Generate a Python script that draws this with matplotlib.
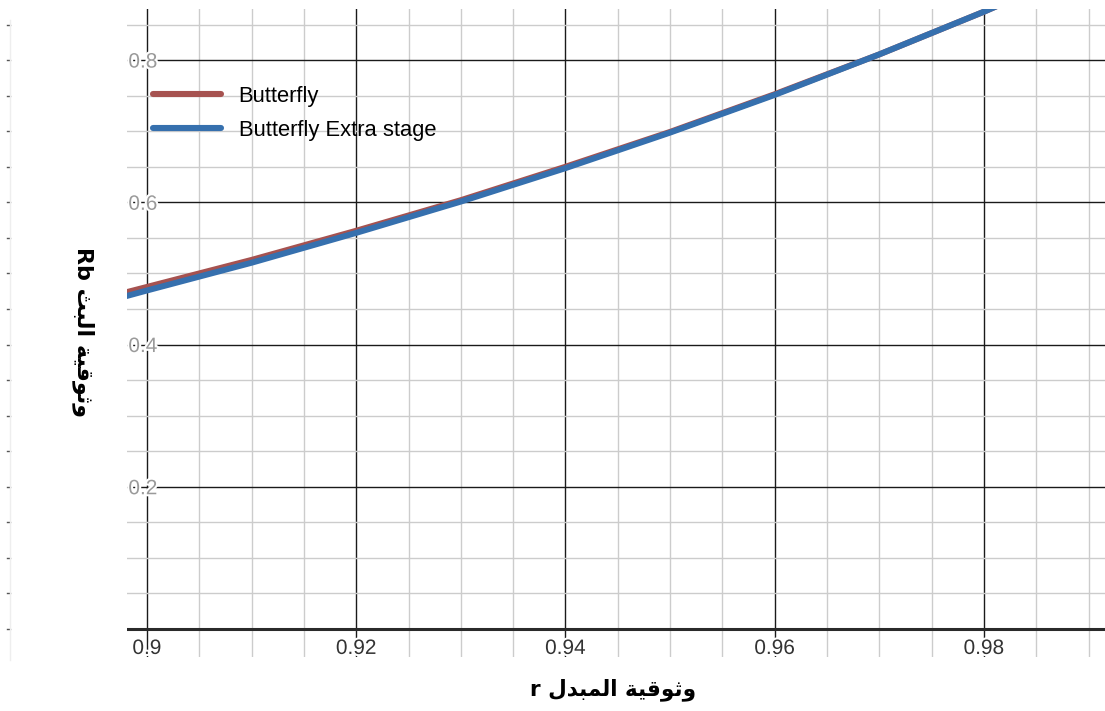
import matplotlib
matplotlib.use("Agg")
import matplotlib.pyplot as plt
import matplotlib.patheffects as pe
from matplotlib import transforms
from matplotlib.lines import Line2D
import numpy as np

# %% Data
r = [0.895, 0.90, 0.91, 0.92, 0.93, 0.94, 0.95, 0.96, 0.97, 0.98, 0.99]
butterfly = [0.462, 0.481, 0.519, 0.560, 0.603, 0.650, 0.699, 0.752, 0.808, 0.868, 0.932]
butterfly_extra = [0.456, 0.476, 0.515, 0.557, 0.601, 0.648, 0.698, 0.751, 0.808, 0.868, 0.932]

x_major = [0.90, 0.92, 0.94, 0.96, 0.98]
x_labels = ["0.9", "0.92", "0.94", "0.96", "0.98"]
y_major = [0.2, 0.4, 0.6, 0.8]
y_labels = ["0.2", "0.4", "0.6", "0.8"]

# Arabic text written in visual order with presentation forms
xlabel = "r " + "\uFEDD\uFEAA\uFE92\uFEE4\uFEDF\uFE8D" + " " + "\uFE94\uFEF4\uFED7\uFEEE\uFE9B\uFEED"
ylabel = "Rb " + "\uFE9A\uFE92\uFEDF\uFE8D" + " " + "\uFE94\uFEF4\uFED7\uFEEE\uFE9B\uFEED"

red = "#a65250"
blue = "#3670ae"

# %% Figure
W, H = 1105, 711
fig = plt.figure(figsize=(W / 100, H / 100), dpi=100)
ax = fig.add_axes([127 / W, 1 - 657 / H, 1 - 127 / W, (657 - 9) / H])

for s in ax.spines.values():
    s.set_visible(False)

# grid
ax.set_xticks(np.arange(0.895, 0.995, 0.005), minor=True)
ax.set_yticks(np.arange(0.0, 0.9, 0.05), minor=True)
ax.set_xticks(x_major)
ax.set_xticklabels(x_labels)
ax.set_yticks(y_major)
ax.set_yticklabels(y_labels)
ax.grid(which="minor", color="#cccccc", lw=1.0)
ax.grid(which="major", color="#1a1a1a", lw=1.0)
ax.set_axisbelow(True)
ax.axhline(0, color="#2a2a2a", lw=2.2, zorder=1)

ax.tick_params(which="both", length=0)
ax.tick_params(axis="y", pad=-1, labelsize=15, labelcolor="#9a9a9a")
ax.tick_params(axis="x", pad=-13, labelsize=15, labelcolor="#333333")
halo = [pe.withStroke(linewidth=3, foreground="white")]
for t in ax.get_yticklabels():
    t.set_horizontalalignment("left")
    t.set_fontfamily("Liberation Sans")
    t.set_path_effects(halo)
for t in ax.get_xticklabels():
    t.set_fontfamily("Liberation Sans")
    t.set_path_effects(halo)

# curves
ax.plot(r, butterfly, color=red, lw=4.3, solid_capstyle="round", label="Butterfly", zorder=3)
ax.plot(r, butterfly_extra, color=blue, lw=4.3, solid_capstyle="round",
        label="Butterfly Extra stage", zorder=4)

leg = ax.legend(loc="upper left", bbox_to_anchor=(153 / W, 1 - 86 / H),
                bbox_transform=fig.transFigure, frameon=False,
                prop={"family": "Liberation Sans", "size": 15.8},
                handlelength=3.1, handletextpad=0.8, labelspacing=0.6,
                borderpad=0, borderaxespad=0)
for ln in leg.get_lines():
    ln.set_linewidth(4.4)

# axis titles (Arabic)
fig.text(613 / W, 1 - 690 / H, xlabel, ha="center", va="center",
         fontsize=15.5, fontweight="bold", family=["DejaVu Sans"])
fig.text(83 / W, 1 - 332 / H, ylabel, ha="center", va="center", rotation=-90,
         fontsize=16, fontweight="bold", family=["DejaVu Sans"])

# faint edge of a neighbouring panel on the far left
fig.add_artist(Line2D([10 / W, 10 / W], [1 - 660 / H, 1 - 20 / H],
                      transform=fig.transFigure, color="#eeeeee", lw=1))
tr = transforms.blended_transform_factory(fig.transFigure, ax.transData)
for yv in np.arange(0.0, 0.9, 0.05):
    ax.plot([7 / W, 10 / W], [yv, yv], transform=tr, color="#555555",
            lw=1, clip_on=False)

# limits last, set_ticks would otherwise widen them
ax.set_xlim(0.89809, 0.99157)
ax.set_ylim(-0.0394, 0.8718)

fig.savefig("out.png", dpi=100)
